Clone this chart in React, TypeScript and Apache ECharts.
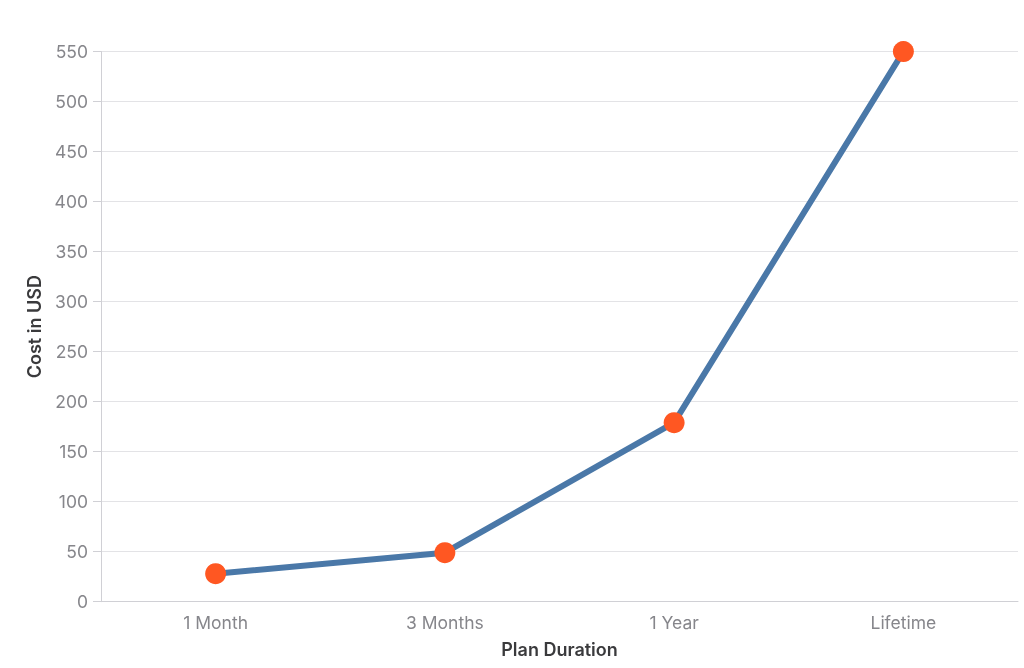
import * as echarts from 'echarts';
import { useEffect, useRef } from 'react';

const planLabels = ['1 Month', '3 Months', '1 Year', 'Lifetime'];
const costValues = [28, 49, 179, 550];

const FONT = 'Inter, "Noto Sans", sans-serif';

export default function App() {
  const chartRef = useRef<HTMLDivElement>(null);

  useEffect(() => {
    if (!chartRef.current) return;
    const chart = echarts.init(chartRef.current, null, { renderer: 'svg' });

    chart.setOption({
      animation: false,
      grid: { left: 101, right: 6, top: 51.6, bottom: 66.3 },
      xAxis: {
        type: 'category',
        data: planLabels,
        name: 'Plan Duration',
        nameLocation: 'middle',
        nameGap: 39,
        nameTextStyle: { color: '#3a3a3c', fontSize: 18, fontFamily: FONT, fontWeight: 600 },
        axisLine: { lineStyle: { color: '#d0d0d5' } },
        axisTick: { alignWithLabel: true, length: 7, lineStyle: { color: '#d0d0d5' } },
        axisLabel: { color: '#86868b', fontSize: 17.5, fontFamily: FONT, margin: 12 },
      },
      yAxis: {
        type: 'value',
        min: 0,
        max: 550,
        interval: 50,
        name: 'Cost in USD',
        nameLocation: 'middle',
        nameGap: 54,
        nameTextStyle: { color: '#3a3a3c', fontSize: 18, fontFamily: FONT, fontWeight: 600 },
        axisLine: { show: true, lineStyle: { color: '#d0d0d5' } },
        axisTick: { show: true, length: 8, lineStyle: { color: '#d0d0d5' } },
        axisLabel: { color: '#86868b', fontSize: 17.5, fontFamily: FONT, margin: 13 },
        splitLine: { lineStyle: { color: '#e3e3e6' } },
      },
      series: [
        {
          type: 'line',
          data: costValues,
          symbol: 'circle',
          symbolSize: 21,
          lineStyle: { color: '#4a78a8', width: 6 },
          itemStyle: { color: '#ff5722' },
        },
      ],
    });

    return () => chart.dispose();
  }, []);

  return (
    <div
      ref={chartRef}
      style={{ position: 'fixed', left: 0, top: 0, width: '1024px', height: '668px' }}
    />
  );
}
